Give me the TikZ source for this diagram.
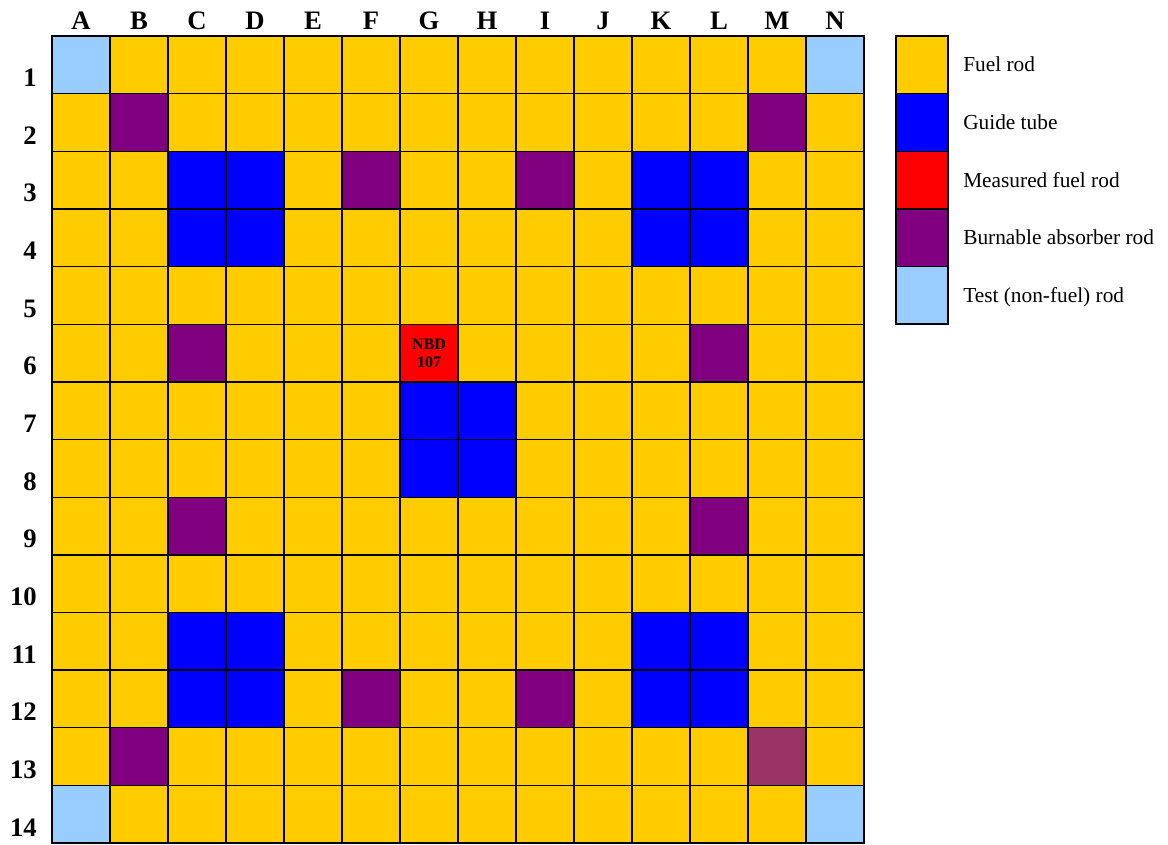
\documentclass[tikz,border=0pt]{standalone}
\usepackage{fontspec}
\setmainfont{Liberation Serif}
\definecolor{fuelc}{HTML}{FFCC00}
\definecolor{guidec}{HTML}{0000FF}
\definecolor{measc}{HTML}{FF0000}
\definecolor{bac}{HTML}{800080}
\definecolor{testc}{HTML}{99CCFF}
\definecolor{bac2}{HTML}{993366}

\begin{document}
\begin{tikzpicture}[x=0.75pt, y=-0.75pt,
    lbl/.style={font={\fontsize{20}{20}\selectfont\bfseries}, inner sep=0pt},
    leg/.style={font={\fontsize{16}{16}\selectfont}, anchor=base west, inner sep=0pt}]
    \useasboundingbox (0,0) rectangle (1168,844);
    % fuel rods everywhere first
    \fill[fuelc] (52,36) rectangle (864,843);
    % other rods: column/row/colour
    \foreach \c/\r/\col in {1/1/testc, 14/1/testc, 2/2/bac, 13/2/bac,
        3/3/guidec, 4/3/guidec, 6/3/bac, 9/3/bac, 11/3/guidec, 12/3/guidec,
        3/4/guidec, 4/4/guidec, 11/4/guidec, 12/4/guidec,
        3/6/bac, 7/6/measc, 12/6/bac,
        7/7/guidec, 8/7/guidec, 7/8/guidec, 8/8/guidec,
        3/9/bac, 12/9/bac,
        3/11/guidec, 4/11/guidec, 11/11/guidec, 12/11/guidec,
        3/12/guidec, 4/12/guidec, 6/12/bac, 9/12/bac, 11/12/guidec, 12/12/guidec,
        2/13/bac, 13/13/bac2, 1/14/testc, 14/14/testc}
        \fill[\col] ({52+58*(\c-1)},{36+57.65*(\r-1)}) rectangle ++(58,57.65);
    % grid lines
    \foreach \i in {1,...,13} {
        \draw[line width=1pt] ({52+58*\i},36) -- ({52+58*\i},843);
        \draw[line width=1pt] (52,{36+57.65*\i}) -- (864,{36+57.65*\i});
    }
    \draw[line width=1.5pt] (52,36) rectangle (864,843);
    % column letters and row numbers
    \foreach \l [count=\i] in {A,B,C,D,E,F,G,H,I,J,K,L,M,N}
        \node[lbl, anchor=base] (col\l) at ({23+58*\i},29) {\l};
    \foreach \r in {1,...,14}
        \node[lbl, anchor=base east] (row\r) at (37,{36+57.65*\r-7}) {\r};
    \node[font={\fontsize{12}{13.5}\selectfont\bfseries}, align=center] (nbd) at (429,353) {NBD\\107};
    % legend
    \foreach \col/\txt [count=\i] in {fuelc/{Fuel rod}, guidec/{Guide tube},
        measc/{Measured fuel rod}, bac/{Burnable absorber rod}, testc/{Test (non-fuel) rod}} {
        \fill[\col] (896,{36+57.65*(\i-1)}) rectangle ++(52,57.65);
        \node[leg] (leg\i) at (963,{36+57.65*(\i-0.5)+7}) {\txt};
    }
    \foreach \i in {1,...,4}
        \draw[line width=1pt] (896,{36+57.65*\i}) -- (948,{36+57.65*\i});
    \draw[line width=1.5pt] (896,36) rectangle (948,324.25);
\end{tikzpicture}
\end{document}
